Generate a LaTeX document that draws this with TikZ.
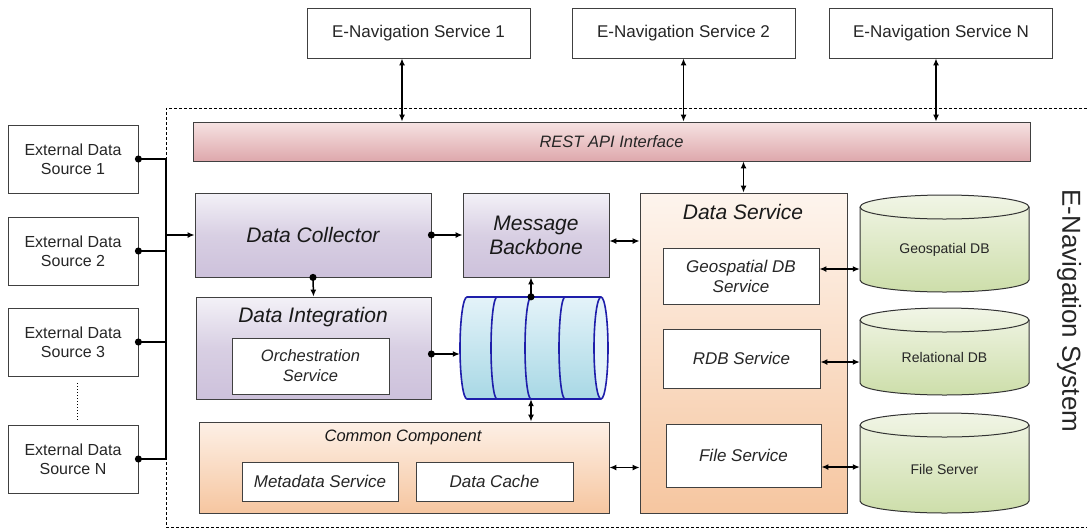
\documentclass[tikz,border=0pt]{standalone}
\usepackage{fontspec}
\setmainfont{Liberation Sans}
\usepackage{tikz}
\usetikzlibrary{arrows.meta}
\definecolor{restTop}{RGB}{246,226,226}
\definecolor{restBot}{RGB}{222,168,172}
\definecolor{dcTop}{RGB}{243,241,247}
\definecolor{dcMid}{RGB}{216,207,227}
\definecolor{dcBot}{RGB}{205,193,219}
\definecolor{ccTop}{RGB}{253,240,230}
\definecolor{ccBot}{RGB}{246,198,160}
\definecolor{dbTop}{RGB}{241,245,230}
\definecolor{dbBot}{RGB}{205,222,170}
\definecolor{qTop}{RGB}{228,243,249}
\definecolor{qBot}{RGB}{168,216,229}
\definecolor{qLine}{RGB}{30,30,170}
\newcommand*{\fsz}[2]{\fontsize{#1}{#2}\selectfont}
\newcommand*{\dbry}{12}
\newcommand*{\dbdrum}[4]{%
  \pgfmathsetmacro{\drumrx}{(#3-#1)/2}
  \path[draw=black!80, line width=1pt, top color=dbTop, bottom color=dbBot]
    (#1,#2+\dbry) -- (#1,#4-\dbry)
    arc[start angle=180, end angle=0, x radius=\drumrx, y radius=\dbry]
    -- (#3,#2+\dbry)
    arc[start angle=0, end angle=-180, x radius=\drumrx, y radius=\dbry] -- cycle;
  \draw[black!80, line width=1pt] (#1,#2+\dbry)
    arc[start angle=180, end angle=0, x radius=\drumrx, y radius=\dbry];}

\begin{document}
\begin{tikzpicture}[x=1pt,y=-1pt]
\tikzset{plainbox/.style={draw=black!75, line width=0.8pt, fill=white, align=center, inner sep=0pt, text=black!85},
  extbox/.style={plainbox, minimum width=130pt, minimum height=68pt, font=\fsz{16}{19}},
  navbox/.style={plainbox, minimum width=223pt, minimum height=50pt, font=\fsz{17}{20}},
  innerbox/.style={plainbox, font=\fsz{17}{20}\itshape},
  groupbox/.style={draw=black!75, line width=0.8pt, align=center, inner sep=0pt, text=black!90, font=\fsz{21}{24}\itshape},
  titletext/.style={inner sep=0pt, text=black!90, font=\fsz{21}{24}\itshape},
  dbtext/.style={inner sep=0pt, minimum width=169pt, minimum height=85pt, text=black!85, font=\fsz{14}{17}},
  wire/.style={line width=1.7pt},
  dotarrow/.style={line width=1.5pt, {Circle[length=7pt,sep=-3.5pt]}-{Latex[length=7pt,width=6pt]}},
  dotline/.style={line width=1.5pt, {Circle[length=7pt,sep=-3.5pt]}-},
  onearrow/.style={line width=1.5pt, -{Latex[length=7pt,width=6pt]}},
  bothways/.style={line width=1.5pt, {Latex[length=7pt,width=6pt]}-{Latex[length=7pt,width=6pt]}},
  qline/.style={draw=qLine, line width=1.6pt}}

    \useasboundingbox (0,0) rectangle (1087,531);
    \draw[line width=0.8pt, dash pattern=on 3pt off 2pt] (1087,108) -- (166,108) -- (166,527) -- (1087,527);

    % outside
    \node[navbox] (svc1) at (418.5,33) {E-Navigation Service 1};
    \node[navbox] (svc2) at (683.5,33) {E-Navigation Service 2};
    \node[navbox] (svcN) at (941,33) {E-Navigation Service N};

    \node[extbox] (src1) at (73,159) {External Data\\Source 1};
    \node[extbox] (src2) at (73,251) {External Data\\Source 2};
    \node[extbox] (src3) at (73,342) {External Data\\Source 3};
    \node[extbox] (srcN) at (73,459) {External Data\\Source N};
    \draw[line width=0.8pt, dash pattern=on 1pt off 2pt] (77,383) -- (77,420);

    % inside
    \node[draw=black!75, line width=0.8pt, top color=restTop, bottom color=restBot, minimum width=837pt, minimum height=39pt, inner sep=0pt, text=black!85, font=\fsz{16.5}{19}\itshape] (rest) at (611.5,141.5) {REST API Interface};

    \node[groupbox, top color=dcTop, bottom color=dcBot, middle color=dcMid, minimum width=236pt, minimum height=84pt] (dc) at (313,235) {Data Collector};
    \node[groupbox, top color=dcTop, bottom color=dcBot, middle color=dcMid, minimum width=146pt, minimum height=84pt] (mb) at (536,235) {Message\\Backbone};
    \node[groupbox, top color=dcTop, bottom color=dcBot, middle color=dcMid, minimum width=235pt, minimum height=102pt] (di) at (313.5,348) {};
    \node[titletext] (ditl) at (313,317) {Data Integration};
    \node[innerbox, minimum width=157pt, minimum height=56pt, font=\fsz{16.5}{20}\itshape] (orch) at (310.5,366) {Orchestration\\Service};

    \node[groupbox, top color=ccTop, bottom color=ccBot, minimum width=410pt, minimum height=91pt] (cc) at (404,467.5) {};
    \node[titletext, font=\fsz{16.5}{19}\itshape] (cctl) at (403,437) {Common Component};
    \node[innerbox, minimum width=156pt, minimum height=39pt] (meta) at (320,481.5) {Metadata Service};
    \node[innerbox, minimum width=157pt, minimum height=39pt] (cache) at (494.5,481.5) {Data Cache};

    \node[groupbox, top color=ccTop!70!white, bottom color=ccBot, minimum width=207pt, minimum height=320pt] (ds) at (743.5,353) {};
    \node[titletext] (dstl) at (743,212) {Data Service};
    \node[innerbox, minimum width=156pt, minimum height=56pt] (gsvc) at (741,276) {Geospatial DB\\Service};
    \node[innerbox, minimum width=157pt, minimum height=59pt] (rsvc) at (741.5,358.5) {RDB Service};
    \node[innerbox, minimum width=155pt, minimum height=63pt] (fsvc) at (743.5,455.5) {File Service};

    % queue
    \shade[top color=qTop, bottom color=qBot] (601,297) -- (467,297) arc[start angle=-90, end angle=-270, x radius=7, y radius=51] -- (601,399) arc[start angle=90, end angle=-90, x radius=7, y radius=51] -- cycle;
    \draw[qline] (601,297) -- (467,297) arc[start angle=-90, end angle=-270, x radius=7, y radius=51] -- (601,399);
    \draw[qline, fill=qTop] (601,348) ellipse [x radius=7, y radius=51];
    \foreach \qx in {497,531,565}
        \draw[qline] (\qx,297) arc[start angle=-90, end angle=-270, x radius=6, y radius=51];
    \node[minimum width=148pt, minimum height=102pt, inner sep=0pt] (queue) at (534,348) {};

    % storage
    \dbdrum{860}{195}{1029}{292}
    \dbdrum{860}{308}{1029}{395}
    \dbdrum{860}{413}{1029}{513}
    \node[dbtext] (geodb) at (944.5,249.5) {Geospatial DB};
    \node[dbtext] (reldb) at (944.5,357) {Relational DB};
    \node[dbtext] (filedb) at (944.5,469) {File Server};

    \node[rotate=-90, inner sep=0pt, text=black!85, font=\fsz{26}{30}] (enav) at (1069,311) {E-Navigation System};

    % links
    \coordinate (bus) at (166,0);
    \draw[dotline] (src1.east) -- (src1.east -| bus);
    \draw[dotline] (src2.east) -- (src2.east -| bus);
    \draw[dotline] (src3.east) -- (src3.east -| bus);
    \draw[dotline] (srcN.east) -- (srcN.east -| bus);
    \draw[wire] (src1.east -| bus) -- (srcN.east -| bus);
    \draw[onearrow] (dc.west -| bus) -- (dc.west);

    \draw[bothways] (402,0 |- svc1.south) -- (402,0 |- rest.north);
    \draw[bothways] (svc2.south) -- (svc2.south |- rest.north);
    \draw[bothways] (936,0 |- svcN.south) -- (936,0 |- rest.north);
    \draw[bothways] (ds.north |- rest.south) -- (ds.north);

    \draw[dotarrow] (dc.east) -- (mb.west);
    \draw[dotarrow] (dc.south) -- (di.north);
    \draw[dotarrow] (di.east |- 0,354) -- (queue.west |- 0,354);
    \draw[dotarrow] (531,0 |- queue.north) -- (531,0 |- mb.south);
    \draw[bothways] (531,0 |- queue.south) -- (531,0 |- cc.north);
    \draw[bothways] (mb.east |- 0,241) -- (ds.west |- 0,241);
    \draw[bothways] (cc.east) -- (cc.east -| ds.west);

    \draw[bothways] (gsvc.east |- 0,269) -- (geodb.west |- 0,269);
    \draw[bothways] (rsvc.east |- 0,362) -- (reldb.west |- 0,362);
    \draw[bothways] (fsvc.east |- 0,467) -- (filedb.west |- 0,467);
\end{tikzpicture}
\end{document}
